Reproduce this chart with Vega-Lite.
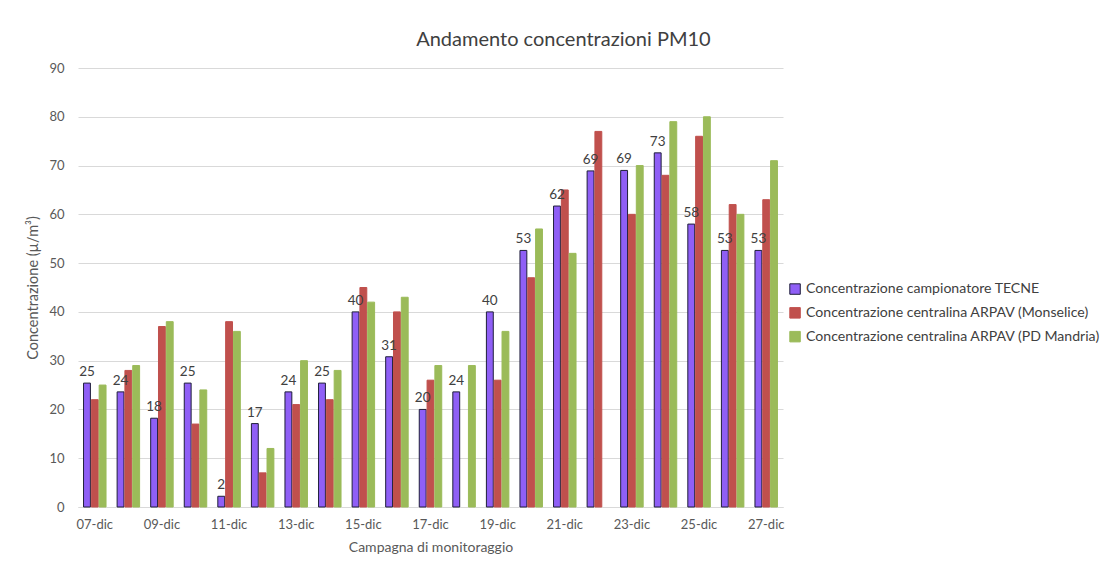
{
  "$schema": "https://vega.github.io/schema/vega-lite/v6.json",
  "width": 705,
  "height": 439,
  "padding": {"left": 25, "top": 30, "right": 5, "bottom": 5},
  "background": "white",
  "config": {
    "font": "Lato",
    "view": {"stroke": null},
    "axis": {"labelFont": "Lato", "titleFont": "Lato", "labelColor": "#595959", "titleColor": "#595959", "titleFontWeight": "normal"},
    "legend": {"labelFont": "Lato"}
  },
  "title": {"text": "Andamento concentrazioni PM10", "fontSize": 20, "font": "Lato", "fontWeight": "normal", "color": "#404040", "anchor": "middle", "frame": "bounds", "offset": 12},
  "data": {"values": [
    {"d": "07-dic", "s": "Concentrazione campionatore TECNE", "v": 25.4},
    {"d": "08-dic", "s": "Concentrazione campionatore TECNE", "v": 23.6},
    {"d": "09-dic", "s": "Concentrazione campionatore TECNE", "v": 18.2},
    {"d": "10-dic", "s": "Concentrazione campionatore TECNE", "v": 25.4},
    {"d": "11-dic", "s": "Concentrazione campionatore TECNE", "v": 2.2},
    {"d": "12-dic", "s": "Concentrazione campionatore TECNE", "v": 17.1},
    {"d": "13-dic", "s": "Concentrazione campionatore TECNE", "v": 23.6},
    {"d": "14-dic", "s": "Concentrazione campionatore TECNE", "v": 25.4},
    {"d": "15-dic", "s": "Concentrazione campionatore TECNE", "v": 40.0},
    {"d": "16-dic", "s": "Concentrazione campionatore TECNE", "v": 30.8},
    {"d": "17-dic", "s": "Concentrazione campionatore TECNE", "v": 20.0},
    {"d": "18-dic", "s": "Concentrazione campionatore TECNE", "v": 23.6},
    {"d": "19-dic", "s": "Concentrazione campionatore TECNE", "v": 40.0},
    {"d": "20-dic", "s": "Concentrazione campionatore TECNE", "v": 52.6},
    {"d": "21-dic", "s": "Concentrazione campionatore TECNE", "v": 61.7},
    {"d": "22-dic", "s": "Concentrazione campionatore TECNE", "v": 68.9},
    {"d": "23-dic", "s": "Concentrazione campionatore TECNE", "v": 69.0},
    {"d": "24-dic", "s": "Concentrazione campionatore TECNE", "v": 72.6},
    {"d": "25-dic", "s": "Concentrazione campionatore TECNE", "v": 58.0},
    {"d": "26-dic", "s": "Concentrazione campionatore TECNE", "v": 52.6},
    {"d": "27-dic", "s": "Concentrazione campionatore TECNE", "v": 52.6},
    {"d": "07-dic", "s": "Concentrazione centralina ARPAV (Monselice)", "v": 22},
    {"d": "08-dic", "s": "Concentrazione centralina ARPAV (Monselice)", "v": 28},
    {"d": "09-dic", "s": "Concentrazione centralina ARPAV (Monselice)", "v": 37},
    {"d": "10-dic", "s": "Concentrazione centralina ARPAV (Monselice)", "v": 17},
    {"d": "11-dic", "s": "Concentrazione centralina ARPAV (Monselice)", "v": 38},
    {"d": "12-dic", "s": "Concentrazione centralina ARPAV (Monselice)", "v": 7},
    {"d": "13-dic", "s": "Concentrazione centralina ARPAV (Monselice)", "v": 21},
    {"d": "14-dic", "s": "Concentrazione centralina ARPAV (Monselice)", "v": 22},
    {"d": "15-dic", "s": "Concentrazione centralina ARPAV (Monselice)", "v": 45},
    {"d": "16-dic", "s": "Concentrazione centralina ARPAV (Monselice)", "v": 40},
    {"d": "17-dic", "s": "Concentrazione centralina ARPAV (Monselice)", "v": 26},
    {"d": "19-dic", "s": "Concentrazione centralina ARPAV (Monselice)", "v": 26},
    {"d": "20-dic", "s": "Concentrazione centralina ARPAV (Monselice)", "v": 47},
    {"d": "21-dic", "s": "Concentrazione centralina ARPAV (Monselice)", "v": 65},
    {"d": "22-dic", "s": "Concentrazione centralina ARPAV (Monselice)", "v": 77},
    {"d": "23-dic", "s": "Concentrazione centralina ARPAV (Monselice)", "v": 60},
    {"d": "24-dic", "s": "Concentrazione centralina ARPAV (Monselice)", "v": 68},
    {"d": "25-dic", "s": "Concentrazione centralina ARPAV (Monselice)", "v": 76},
    {"d": "26-dic", "s": "Concentrazione centralina ARPAV (Monselice)", "v": 62},
    {"d": "27-dic", "s": "Concentrazione centralina ARPAV (Monselice)", "v": 63},
    {"d": "07-dic", "s": "Concentrazione centralina ARPAV (PD Mandria)", "v": 25},
    {"d": "08-dic", "s": "Concentrazione centralina ARPAV (PD Mandria)", "v": 29},
    {"d": "09-dic", "s": "Concentrazione centralina ARPAV (PD Mandria)", "v": 38},
    {"d": "10-dic", "s": "Concentrazione centralina ARPAV (PD Mandria)", "v": 24},
    {"d": "11-dic", "s": "Concentrazione centralina ARPAV (PD Mandria)", "v": 36},
    {"d": "12-dic", "s": "Concentrazione centralina ARPAV (PD Mandria)", "v": 12},
    {"d": "13-dic", "s": "Concentrazione centralina ARPAV (PD Mandria)", "v": 30},
    {"d": "14-dic", "s": "Concentrazione centralina ARPAV (PD Mandria)", "v": 28},
    {"d": "15-dic", "s": "Concentrazione centralina ARPAV (PD Mandria)", "v": 42},
    {"d": "16-dic", "s": "Concentrazione centralina ARPAV (PD Mandria)", "v": 43},
    {"d": "17-dic", "s": "Concentrazione centralina ARPAV (PD Mandria)", "v": 29},
    {"d": "18-dic", "s": "Concentrazione centralina ARPAV (PD Mandria)", "v": 29},
    {"d": "19-dic", "s": "Concentrazione centralina ARPAV (PD Mandria)", "v": 36},
    {"d": "20-dic", "s": "Concentrazione centralina ARPAV (PD Mandria)", "v": 57},
    {"d": "21-dic", "s": "Concentrazione centralina ARPAV (PD Mandria)", "v": 52},
    {"d": "23-dic", "s": "Concentrazione centralina ARPAV (PD Mandria)", "v": 70},
    {"d": "24-dic", "s": "Concentrazione centralina ARPAV (PD Mandria)", "v": 79},
    {"d": "25-dic", "s": "Concentrazione centralina ARPAV (PD Mandria)", "v": 80},
    {"d": "26-dic", "s": "Concentrazione centralina ARPAV (PD Mandria)", "v": 60},
    {"d": "27-dic", "s": "Concentrazione centralina ARPAV (PD Mandria)", "v": 71}
  ]},
  "encoding": {
    "x": {
      "field": "d", "type": "nominal",
      "scale": {
        "domain": ["07-dic","08-dic","09-dic","10-dic","11-dic","12-dic","13-dic","14-dic","15-dic","16-dic","17-dic","18-dic","19-dic","20-dic","21-dic","22-dic","23-dic","24-dic","25-dic","26-dic","27-dic"],
        "paddingInner": 0.33, "paddingOuter": 0.165
      },
      "axis": {
        "values": ["07-dic","09-dic","11-dic","13-dic","15-dic","17-dic","19-dic","21-dic","23-dic","25-dic","27-dic"],
        "labelAngle": 0, "ticks": false, "labelFontSize": 13, "labelPadding": 11,
        "domainColor": "#D9D9D9", "title": "Campagna di monitoraggio", "titleFontSize": 14, "titlePadding": 9
      }
    },
    "xOffset": {
      "field": "s", "type": "nominal",
      "scale": {"domain": ["Concentrazione campionatore TECNE", "Concentrazione centralina ARPAV (Monselice)", "Concentrazione centralina ARPAV (PD Mandria)"], "paddingInner": 0.12}
    }
  },
  "layer": [
    {
      "mark": {"type": "bar", "strokeWidth": 1},
      "encoding": {
        "y": {
          "field": "v", "type": "quantitative",
          "scale": {"domain": [0, 90]},
          "axis": {"values": [0,10,20,30,40,50,60,70,80,90], "domain": false, "ticks": false, "gridColor": "#D9D9D9", "labelFontSize": 13, "labelPadding": 14, "title": "Concentrazione (µ/m³)", "titleFontSize": 14.5, "titlePadding": 8}
        },
        "color": {
          "field": "s", "type": "nominal",
          "scale": {"domain": ["Concentrazione campionatore TECNE", "Concentrazione centralina ARPAV (Monselice)", "Concentrazione centralina ARPAV (PD Mandria)"], "range": ["#8F5FF6", "#C0504D", "#9BBB59"]},
          "legend": {"title": null, "orient": "none", "legendX": 710, "legendY": 214, "symbolType": "square", "symbolSize": 110, "labelFontSize": 14.1, "labelColor": "#404040", "labelLimit": 400, "rowPadding": 7.8, "labelOffset": 4, "symbolStrokeWidth": 1}
        },
        "stroke": {
          "field": "s", "type": "nominal",
          "scale": {"domain": ["Concentrazione campionatore TECNE", "Concentrazione centralina ARPAV (Monselice)", "Concentrazione centralina ARPAV (PD Mandria)"], "range": ["#1f1f3a", "#C0504D", "#9BBB59"]},
          "legend": {"title": null, "orient": "none", "legendX": 710, "legendY": 214, "symbolType": "square", "symbolSize": 110, "labelFontSize": 14.1, "labelColor": "#404040", "labelLimit": 400, "rowPadding": 7.8, "labelOffset": 4, "symbolStrokeWidth": 1}
        }
      }
    },
    {
      "transform": [{"filter": "datum.s === 'Concentrazione campionatore TECNE'"}],
      "mark": {"type": "text", "dy": -11, "fontSize": 13.5, "color": "#404040", "font": "Lato"},
      "encoding": {
        "y": {"field": "v", "type": "quantitative"},
        "text": {"field": "v", "type": "quantitative", "format": ".0f"}
      }
    }
  ]
}
